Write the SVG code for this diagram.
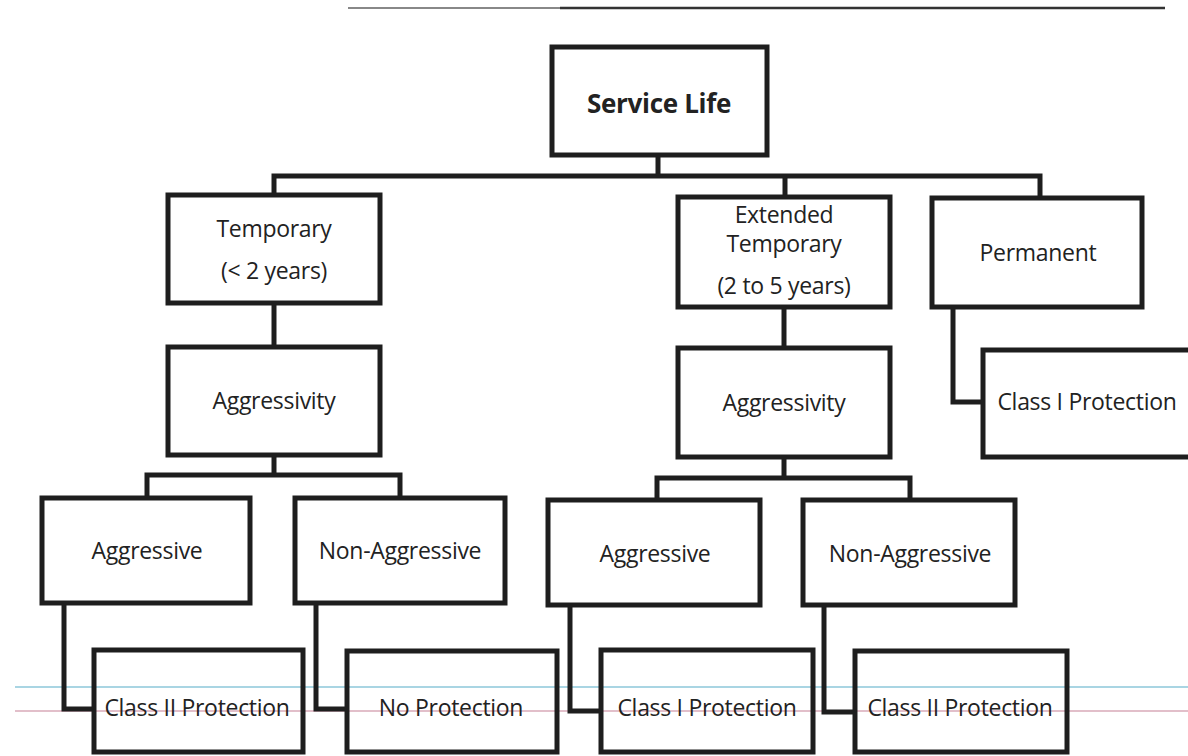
<svg xmlns="http://www.w3.org/2000/svg" width="1188" height="756" viewBox="0 0 1188 756">
<style>
.box{fill:none;stroke:#1e1e1e;stroke-width:5}
.con{fill:none;stroke:#1e1e1e;stroke-width:5;stroke-linejoin:miter}
text{font-family:"Open Sans","Liberation Sans",sans-serif;font-size:23px;fill:#222;text-anchor:middle;dominant-baseline:central;letter-spacing:-0.3px}
.t{font-size:26px;font-weight:bold}
</style>
<rect width="1188" height="756" fill="#fff"/>
<line x1="348" y1="8" x2="560" y2="8" stroke="#888" stroke-width="2"/>
<line x1="560" y1="8" x2="1165" y2="8" stroke="#333" stroke-width="2.5"/>
<line x1="15" y1="687" x2="1188" y2="687" stroke="#a9d5e3" stroke-width="2"/>
<line x1="15" y1="711" x2="1188" y2="711" stroke="#d9aab8" stroke-width="1.5"/>
<g id="connectors">
<path class="con" d="M658 155V176M274 195V176H1040V198M785 176V197"/>
<path class="con" d="M274 303V347M274 455V475H147V498M274 475H400V498"/>
<path class="con" d="M784 307V348M784 457V478H657V500M784 478H910V500"/>
<path class="con" d="M953 307V402H983"/>
<path class="con" d="M64 603V709H94M316 603V709H347M570 605V711H601M824 605V712H855"/>
</g>
<g id="service-life"><rect class="box" x="552" y="47" width="215" height="108"/><text class="t" x="659" y="103">Service Life</text></g>
<g id="temporary"><rect class="box" x="168" y="195" width="212" height="108"/><text x="274" y="228">Temporary</text><text x="274" y="270">(&lt; 2 years)</text></g>
<g id="extended-temporary"><rect class="box" x="678" y="197" width="212" height="110"/><text x="784" y="214">Extended</text><text x="784" y="243">Temporary</text><text x="784" y="285">(2 to 5 years)</text></g>
<g id="permanent"><rect class="box" x="932" y="198" width="210" height="109"/><text x="1038" y="252">Permanent</text></g>
<g id="aggressivity-1"><rect class="box" x="168" y="347" width="212" height="108"/><text x="274" y="400">Aggressivity</text></g>
<g id="aggressivity-2"><rect class="box" x="678" y="348" width="212" height="109"/><text x="784" y="402">Aggressivity</text></g>
<g id="class-i-perm"><rect class="box" x="983" y="350" width="220" height="107"/><text x="1087" y="401">Class I Protection</text></g>
<g id="aggressive-1"><rect class="box" x="42" y="498" width="208" height="105"/><text x="147" y="550">Aggressive</text></g>
<g id="non-aggressive-1"><rect class="box" x="295" y="498" width="210" height="105"/><text x="400" y="550">Non-Aggressive</text></g>
<g id="aggressive-2"><rect class="box" x="548" y="500" width="212" height="105"/><text x="655" y="553">Aggressive</text></g>
<g id="non-aggressive-2"><rect class="box" x="803" y="500" width="212" height="105"/><text x="910" y="553">Non-Aggressive</text></g>
<g id="class-ii-1"><rect class="box" x="94" y="650" width="209" height="102"/><text x="197" y="707">Class II Protection</text></g>
<g id="no-protection"><rect class="box" x="347" y="651" width="210" height="101"/><text x="451" y="707">No Protection</text></g>
<g id="class-i-2"><rect class="box" x="601" y="650" width="212" height="102"/><text x="707" y="707">Class I Protection</text></g>
<g id="class-ii-2"><rect class="box" x="855" y="651" width="212" height="101"/><text x="960" y="707">Class II Protection</text></g>
</svg>
